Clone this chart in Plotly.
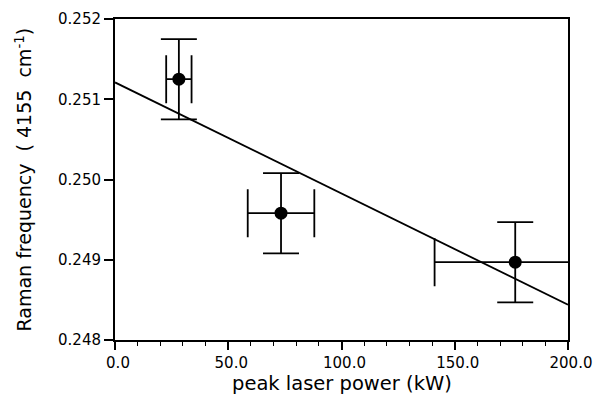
import plotly.graph_objects as go

# Measured points: peak laser power (kW) vs Raman frequency
power_kw = [28.2, 73.3, 176.7]
power_err = [5.6, 14.7, 35.6]
raman_freq = [0.25125, 0.24958, 0.24897]
raman_err = [0.0005, 0.0005, 0.0005]

# Least-squares fit line end points
fit_x = [0.0, 200.0]
fit_y = [0.25121, 0.24844]

x_ticks = [0, 50, 100, 150, 200]
y_ticks = [0.248, 0.249, 0.250, 0.251, 0.252]

x_title = "peak laser power (kW)"
y_title = "Raman frequency  ( 4155  cm<sup>-1</sup>)"

FONT = "DejaVu Sans"

fig = go.Figure()

fig.add_trace(go.Scatter(
    x=fit_x, y=fit_y, mode="lines",
    line=dict(color="black", width=1.8),
    showlegend=False, hoverinfo="skip",
))

fig.add_trace(go.Scatter(
    x=power_kw, y=raman_freq, mode="markers",
    marker=dict(color="black", size=13),
    error_x=dict(type="data", array=power_err, color="black", thickness=1.8, width=24),
    error_y=dict(type="data", array=raman_err, color="black", thickness=1.8, width=18),
    showlegend=False,
))

fig.update_layout(
    width=597, height=394,
    margin=dict(l=115, r=29, t=19, b=54),
    paper_bgcolor="white", plot_bgcolor="white",
    font=dict(family=FONT, color="black"),
)

fig.update_xaxes(
    range=[0, 200], tickvals=x_ticks, ticktext=[f"{v:.1f}" for v in x_ticks],
    ticks="outside", ticklen=8, tickwidth=1.5, tickcolor="black",
    minor=dict(dtick=10, ticks="outside", ticklen=4, tickwidth=1.2, tickcolor="black"),
    showline=True, linecolor="black", linewidth=2, mirror=True,
    showgrid=False, zeroline=False, automargin=False,
    tickfont=dict(family=FONT, size=15, color="black"),
    ticklabelshift=3, ticklabelstandoff=0,
)

fig.update_yaxes(
    range=[0.248, 0.252], tickvals=y_ticks, ticktext=[f"{v:.3f}" for v in y_ticks],
    ticks="outside", ticklen=9, tickwidth=1.5, tickcolor="black",
    showline=True, linecolor="black", linewidth=2, mirror=True,
    showgrid=False, zeroline=False, automargin=False,
    tickfont=dict(family=FONT, size=15, color="black"),
)

# Axis titles placed relative to the plot area edges
fig.add_annotation(
    text=x_title, xref="paper", yref="paper", x=0.5, y=0,
    xanchor="center", yanchor="middle", yshift=-43, showarrow=False,
    borderpad=0, font=dict(family=FONT, size=19.5, color="black"),
)
fig.add_annotation(
    text=y_title, xref="paper", yref="paper", x=0, y=0.5, textangle=-90,
    xanchor="center", yanchor="middle", xshift=-92, showarrow=False,
    borderpad=0, font=dict(family=FONT, size=19, color="black"),
)

fig.write_html("out.html")
